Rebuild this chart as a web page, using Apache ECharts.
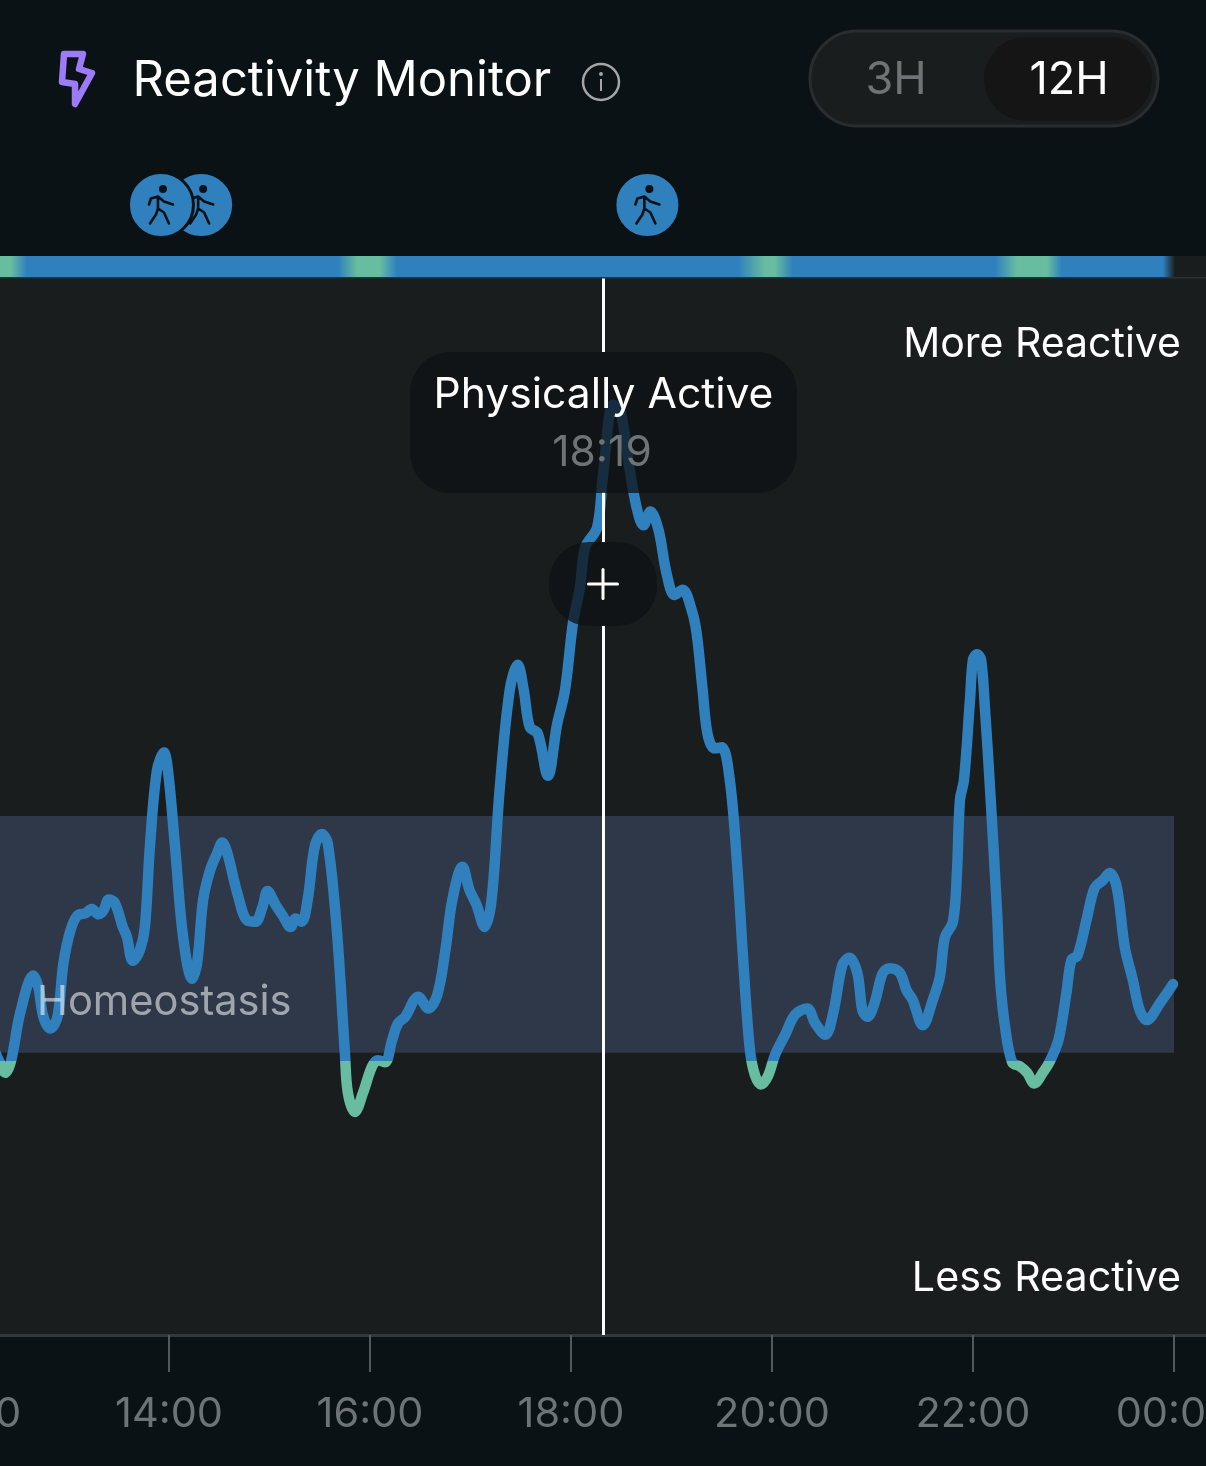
<!DOCTYPE html>
<html>
<head>
<meta charset="utf-8">
<style>html,body{margin:0;padding:0;background:#0B1215}#c{width:1206px;height:1466px}</style>
<script src="https://cdn.jsdelivr.net/npm/echarts@6/dist/echarts.min.js"></script>
</head>
<body>
<div id="c"></div>
<script>
const hours = [12.26,12.32,12.37,12.43,12.52,12.65,12.70,12.75,12.82,12.89,12.95,13.02,13.09,13.17,13.23,13.30,13.35,13.40,13.46,13.54,13.58,13.64,13.71,13.76,13.81,13.88,13.95,13.99,14.06,14.14,14.23,14.28,14.34,14.41,14.48,14.53,14.58,14.68,14.78,14.86,14.93,14.98,15.06,15.13,15.21,15.26,15.32,15.38,15.45,15.52,15.58,15.67,15.75,15.78,15.85,15.93,16.02,16.08,16.15,16.22,16.28,16.35,16.48,16.58,16.67,16.75,16.82,16.92,16.99,17.06,17.14,17.21,17.29,17.39,17.47,17.53,17.59,17.67,17.77,17.86,17.94,18.02,18.09,18.14,18.26,18.32,18.42,18.49,18.59,18.66,18.72,18.79,18.87,18.95,19.03,19.11,19.20,19.25,19.31,19.36,19.43,19.50,19.58,19.65,19.72,19.78,19.83,19.89,19.96,20.03,20.13,20.23,20.35,20.43,20.53,20.61,20.70,20.77,20.85,20.90,20.95,21.02,21.10,21.17,21.27,21.34,21.40,21.50,21.60,21.67,21.72,21.80,21.84,21.87,21.91,21.97,22.00,22.04,22.08,22.12,22.17,22.24,22.27,22.32,22.39,22.47,22.54,22.61,22.70,22.76,22.85,22.93,22.98,23.04,23.13,23.21,23.29,23.36,23.43,23.51,23.59,23.66,23.73,23.86,23.99];
const reactivity = [27.0,25.7,24.8,26.0,30.5,34.0,32.9,30.1,29.0,30.1,35.2,38.3,39.7,39.9,40.3,39.8,40.2,41.2,40.9,38.6,37.7,35.4,36.4,38.6,46.2,53.4,55.1,53.4,46.2,37.7,33.7,35.2,41.2,44.0,45.6,46.6,45.6,41.8,39.2,39.1,40.5,42.0,40.7,39.7,38.6,39.4,39.1,41.2,46.2,47.4,46.5,38.3,26.7,22.9,21.1,22.9,25.4,26.0,25.8,27.9,29.5,30.1,32.0,30.9,32.2,36.4,41.2,44.3,42.1,40.7,38.6,41.2,51.6,61.0,63.4,61.0,57.5,56.9,52.9,57.7,61.0,67.4,70.8,74.5,76.4,81.5,88.0,87.5,81.5,78.0,76.6,77.9,76.2,72.1,70.0,70.5,68.6,66.4,61.0,56.8,55.5,55.6,52.5,44.9,34.5,27.0,24.6,23.7,24.5,26.5,28.4,30.3,30.9,29.5,28.4,30.5,35.0,35.7,34.2,30.7,30.1,31.4,34.2,34.7,34.3,32.6,31.7,29.3,31.7,33.9,37.6,39.1,43.7,50.6,52.5,60.1,63.9,64.4,63.9,59.1,51.6,39.9,33.6,29.1,25.8,25.4,24.8,23.8,24.9,25.8,27.9,32.4,35.5,35.9,39.3,42.3,43.0,43.7,42.4,36.7,33.6,30.7,29.8,31.4,33.2];
const homeostasisLow = 26.7;
const homeostasisHigh = 49.1;
const greenBelow = 25.9;
const tickHours = {min: 12, max: 26, step: 2};
const stripHours = [12,12.43,12.59,15.68,15.87,16.10,16.27,19.66,19.93,20.03,20.21,22.22,22.44,22.74,22.89,23.89,24.01,26];
const stripState = [1,1,0,0,1,1,0,0,1,1,0,0,1,1,0,0,2,2];
const activityHours = [14.32,13.92,18.76];
const cursorHour = 18.32;
const cursorSpans = [[100,93.0],[79.75,75.0],[67.1,0]];

const BLUE='#2F80BD',GREEN='#68BC9F',PLOT='#191D1E',PAGE='#0B1215',GREY='#6E7375';
const stateColors=[BLUE,GREEN,PLOT];
const FONT='Inter';
const stripData=stripHours.slice(0,-1).map((h,i)=>[h,stripHours[i+1],stripState[i],stripState[i+1]]);
const chart=echarts.init(document.getElementById('c'),null,{width:1206,height:1466});
const T=(text,x,y,size,fill,align,z)=>({type:'text',z:z||60,style:{text,x,y,fill,font:'400 '+size+'px '+FONT,textAlign:align||'left',textVerticalAlign:'middle'}});
const hiddenX=i=>({type:'value',gridIndex:i,min:tickHours.min,max:tickHours.max,show:false});
const gridBase={left:-32,width:1407,outerBoundsMode:'none',containLabel:false};
chart.setOption({
  animation:false,
  backgroundColor:PAGE,
  grid:[
    {...gridBase,top:278,height:1057,show:true,backgroundColor:PLOT,borderWidth:0},
    {...gridBase,top:256,height:21,show:false},
    {...gridBase,top:174,height:62,show:false}
  ],
  xAxis:[
    {type:'value',gridIndex:0,min:tickHours.min,max:tickHours.max,interval:tickHours.step,
     splitLine:{show:false},
     axisLine:{show:true,lineStyle:{color:'#33383B',width:3}},
     axisTick:{show:true,length:37,lineStyle:{color:'#55595B',width:2}},
     axisLabel:{color:GREY,fontFamily:FONT,fontSize:41.5,margin:59,showMinLabel:true,showMaxLabel:false,hideOverlap:false,
       formatter:v=>String(v%24).padStart(2,'0')+':00'}},
    hiddenX(1),hiddenX(2)
  ],
  yAxis:[
    {type:'value',gridIndex:0,min:0,max:100,show:false},
    {type:'value',gridIndex:1,min:0,max:1,show:false},
    {type:'value',gridIndex:2,min:0,max:1,show:false}
  ],
  visualMap:{type:'piecewise',show:false,seriesIndex:0,dimension:1,
    pieces:[{min:0,max:greenBelow,color:GREEN},{min:greenBelow,max:100,color:BLUE}]},
  series:[
    {type:'line',xAxisIndex:0,yAxisIndex:0,data:hours.map((h,i)=>[h,reactivity[i]]),
     smooth:0.35,symbol:'none',silent:true,
     lineStyle:{width:10.5,cap:'round',join:'round'},
     markArea:{silent:true,itemStyle:{color:'#2E3849'},label:{show:false},
       data:[[{coord:[tickHours.min,homeostasisHigh]},{coord:[24,homeostasisLow]}]]},
     markLine:{silent:true,symbol:'none',label:{show:false},lineStyle:{color:'#FFFFFF',width:3,type:'solid'},
       data:cursorSpans.map(s=>[{coord:[cursorHour,s[0]]},{coord:[cursorHour,s[1]]}])}
    },
    {type:'custom',xAxisIndex:1,yAxisIndex:1,silent:true,data:stripData,clip:false,
     encode:{x:[0,1]},
     renderItem(p,api){
       const a=Math.round(api.coord([api.value(0),0])[0]),b=Math.round(api.coord([api.value(1),0])[0]);
       const top=api.coord([12,1])[1],bot=api.coord([12,0])[1];
       return {type:'rect',shape:{x:a,y:top,width:b-a,height:bot-top},
         style:{fill:new echarts.graphic.LinearGradient(0,0,1,0,[
           {offset:0,color:stateColors[api.value(2)]},{offset:1,color:stateColors[api.value(3)]}])}};
     }},
    {type:'custom',xAxisIndex:2,yAxisIndex:2,silent:true,data:activityHours.map(h=>[h,0.5]),clip:false,
     renderItem(p,api){
       const c=api.coord([api.value(0),api.value(1)]);
       const s={stroke:PAGE,lineWidth:2.6,fill:'none',lineCap:'round',lineJoin:'round'};
       return {type:'group',x:c[0],y:c[1],children:[
         {type:'circle',shape:{cx:0,cy:0,r:32.5},style:{fill:BLUE,stroke:PAGE,lineWidth:3}},
         {type:'circle',shape:{cx:2,cy:-16,r:4},style:{fill:PAGE}},
         {type:'path',shape:{pathData:'M-12 0 L-10 -6 L-3 -8 L3 -3 L12 0 M-3 -8 L-3 4 L3 8 L8 19 M-3 4 L-5 10 L-11 19',x:-12,y:-9,width:24,height:28},style:s}
       ]};
     }}
  ],
  graphic:{elements:[
    {type:'polygon',z:60,shape:{points:[[64,54],[83,54],[79,69],[92,73],[75,104],[75,84],[62,82]]},
     style:{fill:'none',stroke:'#9B7BF7',lineWidth:6.5,lineJoin:'round'}},
    T('Reactivity Monitor',132.5,81,49,'#FFFFFF'),
    {type:'circle',z:60,shape:{cx:601,cy:82,r:18},style:{fill:'none',stroke:'#A3A5A6',lineWidth:2.5}},
    {type:'circle',z:60,shape:{cx:601,cy:74,r:2},style:{fill:'#A3A5A6'}},
    {type:'rect',z:60,shape:{x:600,y:79,width:2,height:12},style:{fill:'#A3A5A6'}},
    {type:'rect',z:60,shape:{x:810,y:31,width:348,height:95,r:47},style:{fill:PLOT,stroke:'#2A2D2F',lineWidth:3}},
    {type:'rect',z:60,shape:{x:984,y:37,width:168,height:84,r:42},style:{fill:'#151515'}},
    T('3H',896,80,45,GREY,'center',61),
    T('12H',1069,80,45,'#FFFFFF','center',61),
    T('More Reactive',1181,345,41,'#FFFFFF','right'),
    T('Less Reactive',1181,1279,41.2,'#FFFFFF','right'),
    T('Homeostasis',37,1002,41.6,'rgba(255,255,255,0.55)','left'),
    {type:'rect',z:50,shape:{x:410,y:352,width:387,height:141,r:40},style:{fill:'rgba(13,18,20,0.75)'}},
    T('Physically Active',603.5,395,42.6,'#FFFFFF','center'),
    T('18:19',602,453,42.5,GREY,'center'),
    {type:'rect',z:50,shape:{x:549,y:542,width:108,height:84,r:40},style:{fill:'rgba(13,18,20,0.75)'}},
    {type:'rect',z:60,shape:{x:587,y:582.5,width:32,height:3,r:1.5},style:{fill:'#FFFFFF'}},
    {type:'rect',z:60,shape:{x:601.5,y:568,width:3,height:32,r:1.5},style:{fill:'#FFFFFF'}},
    {type:'rect',z:60,shape:{x:0,y:277,width:1206,height:1.5},style:{fill:'#2A3035'}}
  ]}
});
</script>
</body>
</html>
